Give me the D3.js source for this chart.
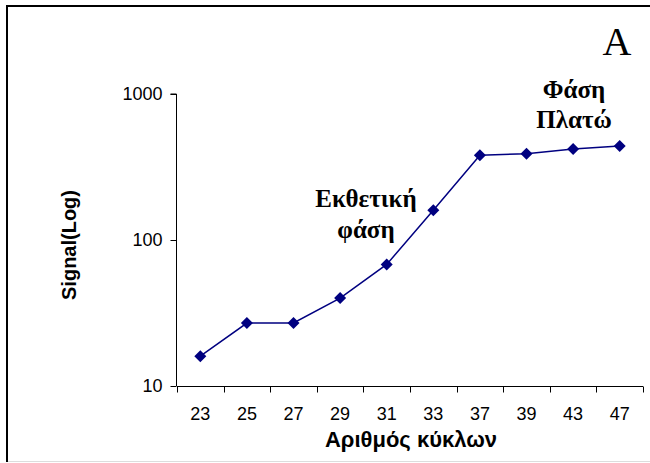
<!DOCTYPE html>
<html>
<head>
<meta charset="utf-8">
<script src="https://cdn.jsdelivr.net/npm/d3@7"></script>
<style>
  html, body { margin: 0; padding: 0; background: #fff; }
  svg { display: block; }
</style>
</head>
<body>
<svg id="chart" width="650" height="463"></svg>
<script>
// PCR cycles and measured signal
const cycles = ["23", "25", "27", "29", "31", "33", "37", "39", "43", "47"];
const signal = [16, 27, 27, 40, 68, 160, 380, 390, 420, 440];
const yTicks = [10, 100, 1000];

const svg = d3.select("#chart");
const W = 650, H = 463;
const plot = { left: 177, right: 643, top: 94, bottom: 386 };
const navy = "#000080";
const sans = "Liberation Sans, Arial, sans-serif";
const serif = "Liberation Serif, Times New Roman, serif";

// frame
svg.append("line").attr("x1", 7).attr("x2", 7).attr("y1", 5).attr("y2", 462)
  .attr("stroke", "#000").attr("stroke-width", 2);
svg.append("line").attr("x1", 6).attr("x2", W).attr("y1", 6).attr("y2", 6)
  .attr("stroke", "#000").attr("stroke-width", 2);
svg.append("line").attr("x1", 8).attr("x2", W).attr("y1", 461.5).attr("y2", 461.5)
  .attr("stroke", "#ddd").attr("stroke-width", 1);

const x = d3.scaleBand().domain(cycles).range([plot.left, plot.right]);
const y = d3.scaleLog().domain([10, 1000]).range([plot.bottom, plot.top]);

// y axis
const yAxis = svg.append("g")
  .attr("transform", `translate(${plot.left - 0.5},0)`)
  .call(d3.axisLeft(y).tickValues(yTicks).tickFormat(d3.format("d")).tickSize(6).tickPadding(8));
yAxis.select(".domain").attr("stroke", "#000").attr("d", `M-6,${y(1000)}H0V${y(10)}`);
yAxis.selectAll("text").attr("font-family", sans)
  .attr("font-size", 18).attr("fill", "#000");

// x axis: labels centered in bands, ticks on band edges
const xAxis = svg.append("g")
  .attr("transform", `translate(0,${plot.bottom + 0.5})`)
  .call(d3.axisBottom(x).tickSize(0).tickPadding(21));
xAxis.select(".domain").attr("stroke", "#000").attr("d", `M${plot.left},0H${plot.right}`);
xAxis.selectAll("text").attr("font-family", sans)
  .attr("font-size", 18).attr("fill", "#000");
const edges = cycles.map(c => x(c)).concat([x.range()[1]]);
xAxis.selectAll("line.edge").data(edges).join("line")
  .attr("class", "edge")
  .attr("x1", d => Math.round(d) + 0.5).attr("x2", d => Math.round(d) + 0.5)
  .attr("y1", 0).attr("y2", 6).attr("stroke", "#000");

// axis titles
svg.append("text")
  .attr("x", 411).attr("y", 447)
  .attr("text-anchor", "middle")
  .attr("font-family", sans)
  .attr("font-weight", "bold").attr("font-size", 22)
  .text("Αριθμός κύκλων");

svg.append("text")
  .attr("transform", "translate(76,245) rotate(-90)")
  .attr("text-anchor", "middle")
  .attr("font-family", sans)
  .attr("font-weight", "bold").attr("font-size", 20)
  .text("Signal(Log)");

// series line and diamond markers
const cx = c => x(c) + x.bandwidth() / 2;
const pts = cycles.map((c, i) => [cx(c), y(signal[i])]);
svg.append("path")
  .attr("d", d3.line()(pts))
  .attr("fill", "none").attr("stroke", navy).attr("stroke-width", 1.5);
svg.selectAll("path.mark").data(pts).join("path")
  .attr("class", "mark")
  .attr("transform", d => `translate(${d[0]},${d[1]})`)
  .attr("d", "M0,-6L6,0L0,6L-6,0Z")
  .attr("fill", navy);

// annotations
svg.append("text").attr("x", 617).attr("y", 55).attr("text-anchor", "middle")
  .attr("font-family", serif).attr("font-size", 40).text("A");

const note = (lines, xPos, yPos, dy) => {
  lines.forEach((t, i) => {
    svg.append("text").attr("x", xPos).attr("y", yPos + i * dy)
      .attr("text-anchor", "middle")
      .attr("font-family", serif).attr("font-weight", "bold").attr("font-size", 25)
      .text(t);
  });
};
note(["Φάση", "Πλατώ"], 574, 98, 30);
note(["Εκθετική", "φάση"], 366, 207, 31);
</script>
</body>
</html>
